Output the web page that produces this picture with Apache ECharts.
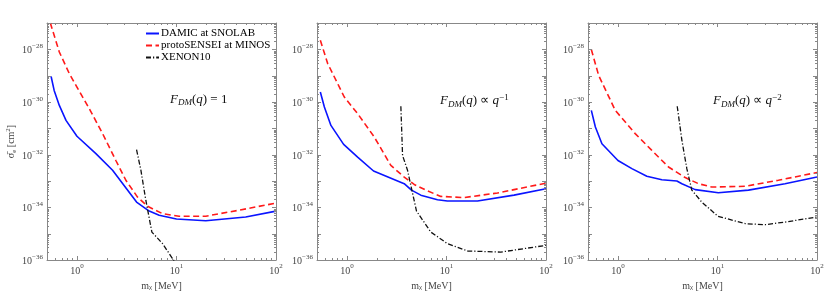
<!DOCTYPE html>
<html><head><meta charset="utf-8">
<script src="https://cdn.jsdelivr.net/npm/echarts@6.0.0/dist/echarts.min.js"></script>
<style>html,body{margin:0;padding:0;background:#fff;}#chart{width:830px;height:308px;}</style>
</head><body><div id="chart"></div>
<script>
// ---------------- data (mass in MeV, cross-section in cm^2) ----------------
const seriesNames = ['DAMIC at SNOLAB', 'protoSENSEI at MINOS', 'XENON10'];
const panelLabels = ['{i|F}{sub|DM}{n|(}{i|q}{n|) = 1}',
                     '{i|F}{sub|DM}{n|(}{i|q}{n|) ∝ }{i|q}{sup|−1}',
                     '{i|F}{sub|DM}{n|(}{i|q}{n|) ∝ }{i|q}{sup|−2}'];

// F_DM = 1
const damicQ0 = [[0.55,9.3e-30],[0.59,2.75e-30],[0.665,7.4e-31],[0.776,2.0e-31],[1.0,5.0e-32],[1.55,1.1e-32],[2.28,2.57e-33],[3.97,1.58e-34],[5.32,7.2e-35],[6.7,5.0e-35],[10,3.6e-35],[19.7,3.1e-35],[49.6,4.3e-35],[100,7.2e-35]];
const sensQ0  = [[0.54,1.0e-27],[0.665,7.9e-29],[0.838,1.2e-29],[1.0,3.7e-30],[1.33,5.6e-31],[1.81,6.3e-32],[2.46,6.0e-33],[3.1,1.07e-33],[4.06,2.45e-34],[5.12,1.1e-34],[7.24,5.75e-35],[10.6,4.6e-35],[19.7,4.6e-35],[42.5,7.8e-35],[100,1.45e-34]];
const xenonQ0 = [[3.97,1.55e-32],[4.39,2.57e-33],[4.92,1.86e-34],[5.66,1.15e-35],[7.24,4.2e-36],[9.5,9.0e-37]];

// F_DM ~ q^-1
const damicQ1 = [[0.54,2.4e-30],[0.593,6.5e-31],[0.69,1.29e-31],[0.926,2.45e-32],[1.28,8.1e-33],[1.85,2.4e-33],[3.76,7.9e-34],[4.45,4.5e-34],[5.52,2.9e-34],[8.12,1.95e-34],[10.2,1.74e-34],[20.5,1.74e-34],[47.7,2.9e-34],[100,5.1e-34]];
const sensQ1  = [[0.54,2.2e-28],[0.64,2.9e-29],[0.94,1.55e-30],[1.28,3.6e-31],[1.88,4.7e-32],[2.76,3.9e-33],[3.76,1.41e-33],[4.74,7.4e-34],[6.44,4.2e-34],[8.77,2.6e-34],[15.0,2.35e-34],[32.5,3.5e-34],[100,8.3e-34]];
const xenonQ1 = [[3.48,6.9e-31],[3.62,9.3e-33],[4.06,2.57e-33],[4.49,4.5e-34],[5.0,7.2e-35],[6.96,1.15e-35],[10.2,4.2e-36],[16.3,2.2e-36],[35.1,2.0e-36],[100,3.6e-36]];

// F_DM ~ q^-2
const damicQ2 = [[0.54,4.8e-31],[0.593,1.12e-31],[0.69,2.6e-32],[1.0,6.0e-33],[1.38,2.95e-33],[1.95,1.51e-33],[2.76,1.12e-33],[3.91,1.0e-33],[4.39,7.9e-34],[5.97,4.7e-34],[10.2,3.6e-34],[20.5,4.5e-34],[47.7,7.9e-34],[100,1.41e-33]];
const sensQ2  = [[0.54,9.8e-29],[0.64,1.02e-29],[0.94,4.8e-31],[1.49,6.3e-32],[2.19,1.45e-32],[3.22,3.4e-33],[4.74,1.35e-33],[6.44,7.9e-34],[8.77,5.9e-34],[19.0,6.3e-34],[40.9,1.07e-33],[100,2.1e-33]];
const xenonQ2 = [[3.94,6.9e-31],[4.39,3.5e-32],[4.92,2.95e-33],[5.52,4.5e-34],[6.96,1.58e-34],[10.1,4.6e-35],[19.0,2.4e-35],[30.1,2.2e-35],[47.7,2.75e-35],[100,4.3e-35]];

const panels = [[damicQ0, sensQ0, xenonQ0], [damicQ1, sensQ1, xenonQ1], [damicQ2, sensQ2, xenonQ2]];

// axis ranges (real units) and minor tick positions
const xMinVal = 0.5, xMaxVal = 100, yMinVal = 1e-36, yMaxVal = 1e-27;
const xMajorTicks = [1, 10, 100];
const xMinorTicks = [0.6,0.7,0.8,0.9,2,3,4,5,6,7,8,9,20,30,40,50,60,70,80,90];
const yMinorMantissas = [2,3,4,5,6,7,8,9];
const yDecades = [-36,-35,-34,-33,-32,-31,-30,-29,-28];

// ---------------- axes are drawn in log10 space ----------------
const L = Math.log10;
const xMin = L(xMinVal), xMax = L(xMaxVal), yMin = L(yMinVal), yMax = L(yMaxVal);

const FONT = 'Liberation Serif';
const gridLefts = [47, 317, 588];
const GRID_TOP = 23, GRID_W = 229, GRID_H = 237;
const AX = '#888', TXT = '#444';
const lineStyles = [
  {color: '#0a14ff', width: 1.6, type: 'solid'},
  {color: '#ff1a1a', width: 1.6, type: [6, 3.5]},
  {color: '#111111', width: 1.3, type: [5, 2, 1.2, 2]}
];

const tickRich = {
  b: {fontFamily: FONT, fontSize: 10, color: TXT, lineHeight: 13, verticalAlign: 'bottom'},
  s: {fontFamily: FONT, fontSize: 7, color: TXT, lineHeight: 8, verticalAlign: 'top'}
};
function xFmt(v) {
  const r = Math.round(v);
  if (Math.abs(v - r) > 1e-6) return '';
  return '{b|10}{s|' + r + '}';
}
function yFmt(v) {
  const r = Math.round(v);
  if (Math.abs(v - r) > 1e-6 || r % 2 !== 0) return '';
  return '{b|10}{s|−' + Math.abs(r) + '}';
}

const xTickPos = [];
xMajorTicks.forEach(v => xTickPos.push([L(v), 4]));
xMinorTicks.forEach(v => xTickPos.push([L(v), 2]));
const yTickPos = [];
yDecades.forEach(d => { yTickPos.push([d, 4]); yMinorMantissas.forEach(m => yTickPos.push([d + L(m), 2])); });
yTickPos.push([yMax, 4]);

const grids = [], xAxes = [], yAxes = [], series = [], graphics = [];
const annotLefts = [170, 440, 713];

panels.forEach((curves, gi) => {
  grids.push({left: gridLefts[gi], top: GRID_TOP, width: GRID_W, height: GRID_H});
  const base = () => ({type: 'value', gridIndex: gi, splitLine: {show: false}, scale: true,
    axisLine: {show: true, onZero: false, lineStyle: {color: AX, width: 1}},
    axisTick: {show: false}, minorTick: {show: false}});
  xAxes.push(Object.assign(base(), {min: xMin, max: xMax, minInterval: 1, maxInterval: 1, position: 'bottom',
    axisLabel: {formatter: xFmt, rich: tickRich, margin: 3, showMinLabel: false},
    name: '{n|m}{sub|χ}{n| [MeV]}', nameLocation: 'middle', nameGap: 12,
    nameTextStyle: {rich: {
      n: {fontFamily: FONT, fontSize: 10, color: TXT, lineHeight: 13, verticalAlign: 'bottom'},
      sub: {fontFamily: FONT, fontSize: 7, color: TXT, lineHeight: 7, verticalAlign: 'bottom'}}}}));
  xAxes.push(Object.assign(base(), {min: xMin, max: xMax, position: 'top', axisLabel: {show: false}}));
  const yLeft = Object.assign(base(), {min: yMin, max: yMax, interval: 1, position: 'left',
    axisLabel: {formatter: yFmt, rich: tickRich, margin: 4}});
  if (gi === 0) {
    Object.assign(yLeft, {name: '{n|σ̄}{sub|e}{n| [cm}{sup|2}{n|]}', nameLocation: 'middle', nameGap: 25,
      nameTextStyle: {rich: {
        n: {fontFamily: FONT, fontSize: 10, color: TXT, lineHeight: 13, verticalAlign: 'middle'},
        sub: {fontFamily: FONT, fontSize: 7, color: TXT, lineHeight: 7, verticalAlign: 'bottom'},
        sup: {fontFamily: FONT, fontSize: 7, color: TXT, lineHeight: 7, verticalAlign: 'top'}}}});
  }
  yAxes.push(yLeft);
  yAxes.push(Object.assign(base(), {min: yMin, max: yMax, interval: 1, position: 'right', axisLabel: {show: false}}));

  curves.forEach((data, si) => {
    const ls = lineStyles[si];
    series.push({type: 'line', name: seriesNames[si], xAxisIndex: 2 * gi, yAxisIndex: 2 * gi,
      data: data.map(p => [L(p[0]), L(p[1])]), symbol: 'none', showSymbol: false, clip: true, silent: true,
      lineStyle: {color: ls.color, width: ls.width, type: ls.type},
      itemStyle: {color: ls.color}, z: si === 0 ? 4 : (si === 1 ? 3 : 5)});
  });

  // major + minor log ticks on all four sides
  const tickData = [];
  xTickPos.forEach(t => tickData.push([t[0], yMin, 0, t[1]]));
  yTickPos.forEach(t => tickData.push([xMin, t[0], 1, t[1]]));
  series.push({type: 'custom', xAxisIndex: 2 * gi, yAxisIndex: 2 * gi, silent: true, z: 6,
    dimensions: ['x', 'y', 'k', 'len'], encode: {x: 0, y: 1},
    data: tickData,
    renderItem: function (params, api) {
      const k = api.value(2), len = api.value(3);
      const st = {stroke: AX, lineWidth: 1};
      if (k === 0) {
        const v = api.value(0);
        const b = api.coord([v, yMin]), t = api.coord([v, yMax]);
        const x = Math.round(b[0]) + 0.5;
        return {type: 'group', children: [
          {type: 'line', shape: {x1: x, y1: b[1], x2: x, y2: b[1] - len}, style: st},
          {type: 'line', shape: {x1: x, y1: t[1], x2: x, y2: t[1] + len}, style: st}]};
      } else {
        const v = api.value(1);
        const l = api.coord([xMin, v]), r = api.coord([xMax, v]);
        const y = Math.round(l[1]) + 0.5;
        return {type: 'group', children: [
          {type: 'line', shape: {x1: l[0], y1: y, x2: l[0] + len, y2: y}, style: st},
          {type: 'line', shape: {x1: r[0], y1: y, x2: r[0] - len, y2: y}, style: st}]};
      }
    }});

  graphics.push({type: 'text', left: annotLefts[gi], top: 93, silent: true,
    style: {text: panelLabels[gi], fill: '#111', rich: {
      i: {fontFamily: FONT, fontStyle: 'italic', fontSize: 13, lineHeight: 16, verticalAlign: 'middle', fill: '#111'},
      n: {fontFamily: FONT, fontSize: 13, lineHeight: 16, verticalAlign: 'middle', fill: '#111'},
      sub: {fontFamily: FONT, fontStyle: 'italic', fontSize: 9, lineHeight: 7, verticalAlign: 'bottom', fill: '#111'},
      sup: {fontFamily: FONT, fontSize: 9, lineHeight: 8, verticalAlign: 'top', fill: '#111'}}}});
});

const chart = echarts.init(document.getElementById('chart'), null, {renderer: 'canvas'});
chart.setOption({
  animation: false,
  backgroundColor: '#fff',
  grid: grids, xAxis: xAxes, yAxis: yAxes, series: series, graphic: graphics,
  legend: {data: seriesNames, orient: 'vertical', left: 145, top: 28, padding: 0,
    itemWidth: 13, itemHeight: 11, itemGap: 1, selectedMode: false,
    itemStyle: {opacity: 0},
    textStyle: {fontFamily: FONT, fontSize: 11, color: '#000', padding: [0, 0, 0, -3]}}
});
</script></body></html>
